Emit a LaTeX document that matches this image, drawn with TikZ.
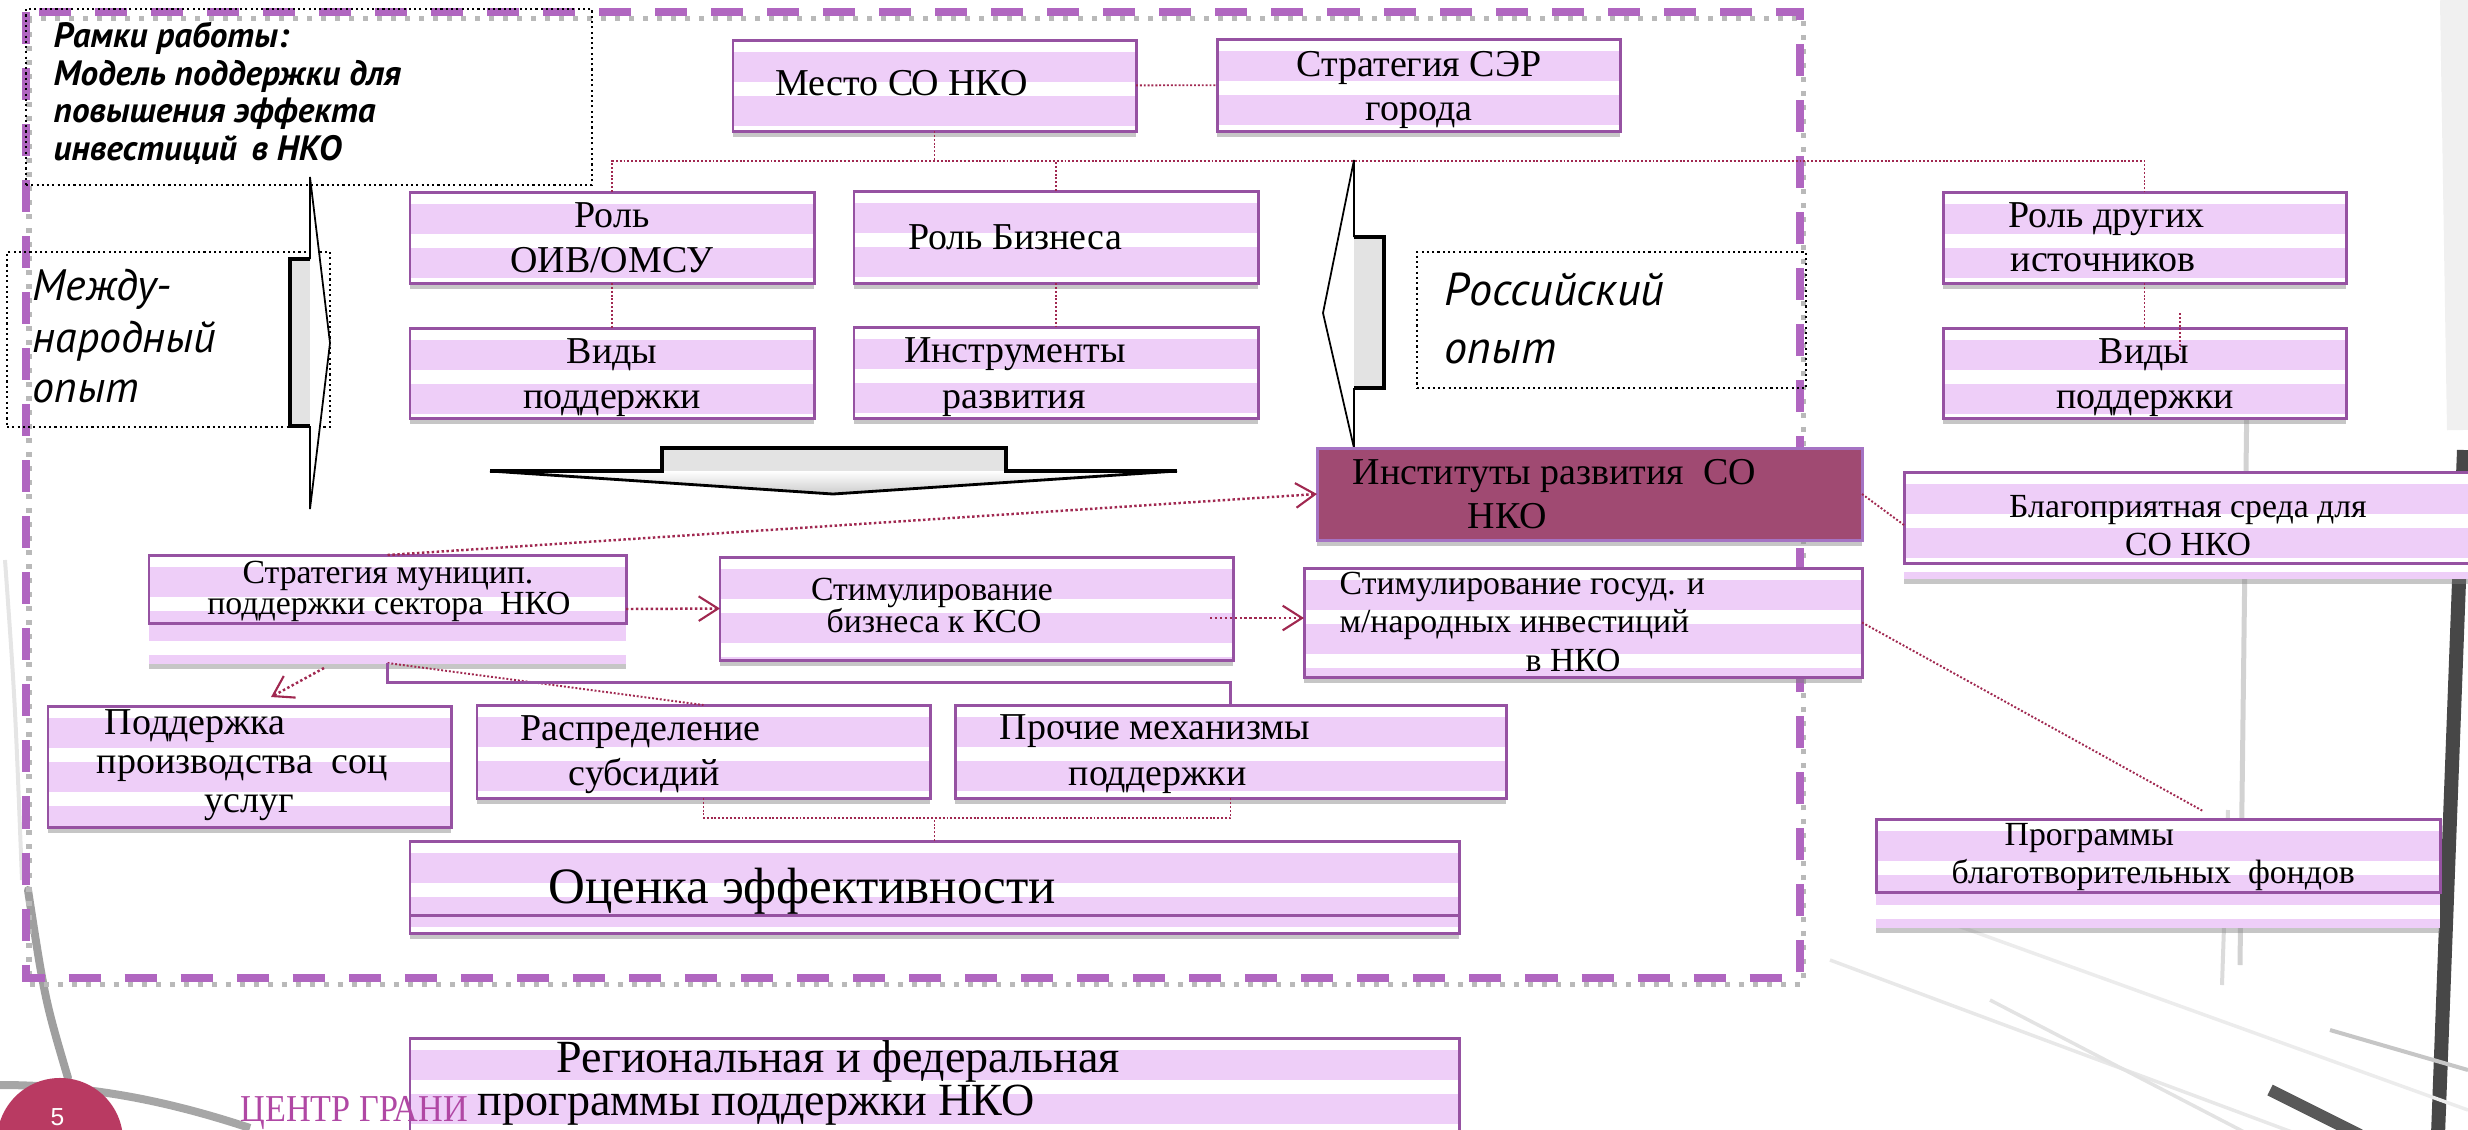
\documentclass[tikz,border=0pt]{standalone}
\usepackage{fontspec}
\setmainfont{Liberation Serif}
\newfontfamily\ptfont{PT Sans}
\newfontfamily\lsans{Liberation Sans}
\usetikzlibrary{arrows.meta,shadows,calc}
\definecolor{lav}{RGB}{238,206,248}
\definecolor{boxp}{RGB}{150,82,162}
\definecolor{framep}{RGB}{176,102,192}
\definecolor{connc}{RGB}{160,40,80}
\definecolor{instf}{RGB}{160,74,114}
\definecolor{instb}{RGB}{165,115,195}
\definecolor{circc}{RGB}{185,58,98}
\definecolor{granic}{RGB}{176,72,164}
\newcommand\fA{\fontsize{10.8pt}{13pt}\selectfont}
\newcommand\fB{\fontsize{9.6pt}{11pt}\selectfont}
\newcommand\fC{\fontsize{14.5pt}{17pt}\selectfont}
\newcommand\fD{\fontsize{13.1pt}{16pt}\selectfont}
\newcommand\bx[6]{\pgfmathsetmacro\bxw{(#5-#3)*0.01}\pgfmathsetmacro\bxh{(#6-#4)*0.01}%
  \node[#1, minimum width=\bxw cm, minimum height=\bxh cm] (#2) at (#3,#4) {};}
\begin{document}
\begin{tikzpicture}[x=0.01cm,y=-0.01cm,
  stripes/.style={path picture={\foreach \k in {0,...,7}{\fill[lav] ([yshift={-0.12cm-\k*0.44cm}]path picture bounding box.north west) rectangle ([yshift={-0.42cm-\k*0.44cm}]path picture bounding box.north east);}}},
  sfill/.style={fill=white, stripes, inner sep=0pt, outer sep=0pt, anchor=north west,
     drop shadow={shadow xshift=0pt, shadow yshift=-0.06cm, opacity=0.45, fill=gray}},
  sbox/.style={sfill, draw=boxp, line width=0.85pt},
  frameonly/.style={draw=boxp, line width=0.85pt, inner sep=0pt, outer sep=0pt, anchor=north west},
  dotbox/.style={draw=black, dash pattern=on 0.6pt off 0.9pt, line width=0.6pt, inner sep=0pt, outer sep=0pt, anchor=north west},
  instbox/.style={fill=instf, draw=instb, line width=0.85pt, inner sep=0pt, outer sep=0pt, anchor=north west,
     drop shadow={shadow xshift=0pt, shadow yshift=-0.06cm, opacity=0.45, fill=gray}},
  ta/.style={inner sep=0pt, anchor=base, font=\fA},
  tal/.style={inner sep=0pt, anchor=base west, font=\fA},
  conn/.style={draw=connc, line width=0.55pt, dash pattern=on 0.55pt off 0.55pt},
  carr/.style={conn, line width=0.7pt, dash pattern=on 0.7pt off 0.7pt, -{Straight Barb[length=5.5pt,width=7pt,line width=0.6pt]}},
  ftxt/.style={inner sep=0pt, anchor=base west, font=\ptfont\bfseries\itshape\fontsize{10pt}{12pt}\selectfont},
  itt/.style={inner sep=0pt, anchor=base west, font=\ptfont\itshape\fontsize{12.5pt}{14pt}\selectfont},
  itr/.style={inner sep=0pt, anchor=base west, font=\ptfont\itshape\fontsize{13.1pt}{15pt}\selectfont},
]
\useasboundingbox (0,0) rectangle (2468,1129);
% background photo strokes
\draw[gray!12, line width=0.3cm] (2455,0) -- (2462,430);
\draw[black!72, line width=0.14cm] (2464,450) -- (2438,1135);
\draw[gray!35, line width=0.05cm] (2247,390) -- (2240,965);
\draw[gray!28, line width=0.04cm] (2228,810) -- (2222,985);
\draw[gray!18, line width=0.035cm] (1830,960) -- (2300,1135);
\draw[gray!15, line width=0.035cm] (1900,905) -- (2468,1110);
\draw[gray!22, line width=0.035cm] (1990,1000) -- (2250,1135);
\draw[gray!45, line width=0.04cm] (2330,1030) -- (2468,1070);
\draw[black!65, line width=0.12cm] (2270,1090) -- (2360,1135);
\draw[gray!75, line width=0.08cm, line cap=round] (28,890) .. controls (45,1000) .. (68,1078);
\draw[gray!70, line width=0.08cm] (0,1085) .. controls (100,1085) and (180,1105) .. (250,1128);
\draw[gray!20, line width=0.04cm] (5,560) .. controls (15,700) .. (22,880);
% outer dashed frame
\draw[gray!55, line width=0.05cm, dash pattern=on 0.05cm off 0.09cm, shift={(3,6)}] (26,12) rectangle (1800,978);
\draw[framep, line width=0.08cm, dash pattern=on 0.32cm off 0.24cm] (26,12) rectangle (1800,978);
% dotted text frames
\bx{dotbox}{d-frame}{26}{9}{592}{185}
\bx{dotbox}{d-mezh}{7}{252}{330}{427}
\bx{dotbox}{d-ros}{1417}{252}{1806}{388}
% block arrows
\fill[white] (310,177) -- (330,343) -- (310,509) -- cycle;
\fill[gray!22] (290,259) rectangle (310,426);
\draw[black, line width=0.5pt] (310,259) -- (310,177) -- (330,343) -- (310,509) -- (310,426);
\draw[black, line width=1.1pt] (310,259) -- (290,259) -- (290,426) -- (310,426);
\fill[white] (1354,160) -- (1323,313) -- (1354,448) -- cycle;
\fill[gray!22] (1354,237) rectangle (1384,388);
\draw[black, line width=0.5pt] (1354,237) -- (1354,160) -- (1323,313) -- (1354,448) -- (1354,388);
\draw[black, line width=1.1pt] (1354,237) -- (1384,237) -- (1384,388) -- (1354,388);
\fill[top color=white, bottom color=gray!40] (490,471) -- (1177,471) -- (833,494) -- cycle;
\fill[gray!22] (662,448) rectangle (1006,471);
\draw[black, line width=0.8pt] (490,471) -- (833,494) -- (1177,471);
\draw[black, line width=1.1pt] (490,471) -- (662,471) -- (662,448) -- (1006,448) -- (1006,471) -- (1177,471);
% boxes
\bx{sbox}{b-mesto}{733}{40}{1136}{131}
\bx{sbox}{b-ser}{1217}{39}{1620}{131}
\bx{sbox}{b-oiv}{410}{192}{814}{283}
\bx{sbox}{b-biz}{854}{191}{1258}{283}
\bx{sbox}{b-vidy1}{410}{328}{814}{418}
\bx{sbox}{b-instr}{854}{327}{1258}{418}
\bx{sbox}{b-drug}{1943}{192}{2346}{283}
\bx{sbox}{b-vidy2}{1943}{328}{2346}{418}
\bx{instbox}{b-inst}{1317}{448}{1862}{540}
\bx{sfill}{b-blag}{1904}{472}{2480}{578}
\bx{frameonly}{b-blag-f}{1904}{472}{2480}{563}
\bx{sfill}{b-strat}{149}{555}{626}{663}
\bx{frameonly}{b-strat-f}{149}{555}{626}{623}
\bx{sbox}{b-stimb}{720}{557}{1233}{660}
\bx{sbox}{b-stimg}{1304}{568}{1862}{677}
\bx{sbox}{b-podd}{48}{706}{451}{827}
\bx{sbox}{b-raspr}{477}{705}{930}{798}
\bx{sbox}{b-proch}{955}{705}{1506}{798}
\bx{sbox}{b-ocenka}{410}{841}{1459}{933}
\draw[boxp, line width=0.85pt] ($(b-ocenka.south west)+(0,-18)$) -- ($(b-ocenka.south east)+(0,-18)$);
\bx{sbox}{b-region}{410}{1038}{1459}{1150}
\bx{sfill}{b-progr}{1876}{819}{2440}{927}
\bx{frameonly}{b-progr-f}{1876}{819}{2440}{892}
% connectors
\coordinate (busL) at (612,161);
\draw[conn] (b-mesto) -- (b-ser);
\draw[conn] (b-mesto.south) -- (b-mesto.south |- busL);
\draw[conn] (b-oiv.north) -- (b-oiv.north |- busL) -- (b-drug.north |- busL) -- (b-drug.north);
\draw[conn] (b-biz.north) -- (b-biz.north |- busL);
\draw[conn] (b-oiv) -- (b-vidy1);
\draw[conn] (b-biz) -- (b-instr);
\draw[conn] (b-drug) -- (b-vidy2);
\coordinate (s1) at (2180,313); \coordinate (s2) at (2180,350);
\draw[conn] (s1) -- (s2);
\draw[carr] (b-strat.north) -- (b-inst.west);
\draw[carr] (b-strat.east) -- (b-stimb.west);
\coordinate (sb) at (1210,618);
\draw[carr] (sb) -- (b-stimg.west |- sb);
\coordinate (pa) at (324,668); \coordinate (pb) at (271,697);
\draw[carr] (pa) -- (pb);
\draw[conn] (b-strat.south) -- (b-raspr.north);
\draw[boxp, line width=0.85pt] (b-strat.south) -- ++(0,19) -| (b-proch.north);
\coordinate (brk) at (934,818);
\draw[conn] (b-raspr.south) |- (brk) -| (b-proch.south);
\draw[conn] (b-ocenka.north) -- (b-ocenka.north |- brk);
\draw[conn] (b-inst.east) -- (b-blag.west);
\coordinate (pg) at (2203,811);
\draw[conn] (b-stimg.east) -- (pg);
% italic texts
\node[ftxt] (t-f1) at (53,47) {Рамки работы:};
\node[ftxt] (t-f2) at (53,85) {Модель поддержки для};
\node[ftxt] (t-f3) at (53,122) {повышения эффекта};
\node[ftxt] (t-f4) at (53,160) {инвестиций\, в НКО};
\node[itt] (t-m1) at (32,300) {Между-};
\node[itt] (t-m2) at (32,352) {народный};
\node[itt] (t-m3) at (32,402) {опыт};
\node[itr] (t-r1) at (1444,305) {Российский};
\node[itr] (t-r2) at (1444,363) {опыт};
% box texts
\node[tal] (t-mesto) at (775,95) {Место С\kern-0.06em О НКО};
\node[ta] (t-ser1) at (1419,76) {Стратегия СЭР};
\node[ta] (t-ser2) at (1419,120) {города};
\node[ta] (t-oiv1) at (612,227) {Роль};
\node[ta] (t-oiv2) at (612,272) {ОИВ/ОМСУ};
\node[ta] (t-biz) at (1015,249) {Роль Бизнеса};
\node[ta] (t-v1a) at (612,363) {Виды};
\node[ta] (t-v1b) at (612,408) {поддержки};
\node[ta] (t-in1) at (1015,362) {Инструменты};
\node[ta] (t-in2) at (1014,408) {развития};
\node[tal] (t-dr1) at (2008,227) {Роль других};
\node[tal] (t-dr2) at (2010,271) {источников};
\node[ta] (t-v2a) at (2144,363) {Виды};
\node[ta] (t-v2b) at (2145,408) {поддержки};
\node[tal] (t-is1) at (1352,484) {Институты развития\enspace СО};
\node[tal] (t-is2) at (1467,528) {НКО};
\node[ta, font=\fB] (t-bl1) at (2188,517) {Благоприятная среда для};
\node[ta, font=\fB] (t-bl2) at (2188,555) {СО НКО};
\node[ta, font=\fB] (t-st1) at (388,583) {Стратегия муницип.};
\node[ta, font=\fB] (t-st2) at (389,614) {поддержки сектора\enspace НКО};
\node[ta, font=\fB] (t-sb1) at (932,600) {Стимулирование};
\node[ta, font=\fB] (t-sb2) at (934,632) {бизнеса к КСО};
\node[tal, font=\fB] (t-sg1) at (1339,594) {Стимулирование госуд. и};
\node[tal, font=\fB] (t-sg2) at (1339,632) {м/народных инвестиций};
\node[tal, font=\fB] (t-sg3) at (1525,671) {в НКО};
\node[tal] (t-pd1) at (104,734) {Поддержка};
\node[tal] (t-pd2) at (96,773) {производства\enspace соц};
\node[tal] (t-pd3) at (204,812) {услуг};
\node[tal] (t-rs1) at (520,740) {Распределение};
\node[tal] (t-rs2) at (568,785) {субсидий};
\node[tal] (t-pr1) at (999,739) {Прочие механизмы};
\node[tal] (t-pr2) at (1068,785) {поддержки};
\node[tal, font=\fC] (t-oc) at (548,903) {Оценка эффективности};
\node[tal, font=\fD] (t-rg1) at (556,1072) {Региональная и федеральная};
\node[tal, font=\fD] (t-rg2) at (477,1115) {программы поддержки НКО};
\node[tal, font=\fB] (t-pg1) at (2004,845) {Программы};
\node[tal, font=\fB] (t-pg2) at (1951,883) {благотворительных\enspace фондов};
% footer
\node[circle, fill=circc, minimum size=1.26cm, inner sep=0pt] (circ5) at (60,1141) {};
\node[tal, text=white, font=\lsans\fontsize{7pt}{9pt}\selectfont] (t-5) at (50,1125) {5};
\node[tal, text=granic, font=\fA] (t-grani) at (240,1121) {\scalebox{0.9}[1]{ЦЕНТР ГРАНИ}};
\end{tikzpicture}
\end{document}
